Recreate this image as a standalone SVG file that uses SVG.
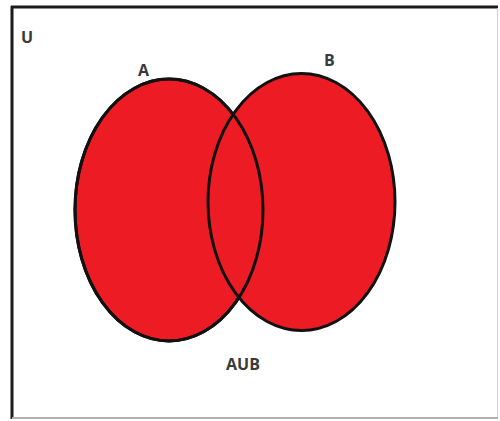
<svg xmlns="http://www.w3.org/2000/svg" width="500" height="421" viewBox="0 0 500 421">
<style>
.set{fill:#ED1C24;stroke:#111;stroke-width:3}
.lbl{font-family:"Open Sans","Liberation Sans",sans-serif;font-weight:bold;font-size:16px;fill:#3a3a3a}
</style>
<rect width="500" height="421" fill="#fff"/>
<g id="universe">
<line x1="11" y1="7" x2="498" y2="7" stroke="#1a1a1a" stroke-width="3"/>
<line x1="12" y1="6" x2="12" y2="419" stroke="#1a1a1a" stroke-width="3"/>
<line x1="497.5" y1="8" x2="497.5" y2="418" stroke="#d0d0d0" stroke-width="1"/>
<line x1="12" y1="418" x2="498" y2="418" stroke="#b0b0b0" stroke-width="2"/>
<text class="lbl" x="21" y="43">U</text>
</g>
<g id="setA">
<ellipse class="set" cx="169" cy="210" rx="94" ry="131"/>
</g>
<g id="setB">
<ellipse class="set" cx="301.5" cy="202" rx="93.5" ry="128.5"/>
</g>
<g id="outlines">
<ellipse cx="169" cy="210" rx="94" ry="131" fill="none" stroke="#111" stroke-width="3"/>
</g>
<g id="labels">
<text class="lbl" x="138" y="76">A</text>
<text class="lbl" x="324" y="66">B</text>
<text class="lbl" x="243" y="370" text-anchor="middle">AUB</text>
</g>
</svg>
